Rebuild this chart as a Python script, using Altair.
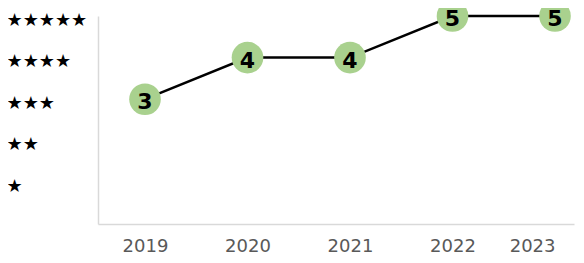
import altair as alt
import pandas as pd

years = [2019, 2020, 2021, 2022, 2023]
ratings = [3, 4, 4, 5, 5]
star_labels = ["★", "★★", "★★★", "★★★★", "★★★★★"]

df = pd.DataFrame({"year": years, "rating": ratings})

label_expr = "[''," + ",".join("'" + s + "'" for s in star_labels) + "][datum.value]"

W = 476
x_enc = alt.X("year:Q",
              scale=alt.Scale(domain=[2019 - 47 / 102.5, 2019 + (W - 47) / 102.5], nice=False, zero=False),
              axis=alt.Axis(title=None, values=years, format="d", labelAngle=0, labelFontSize=18,
                            labelColor="#595959", labelFont="DejaVu Sans", labelPadding=13,
                            ticks=False, grid=False, domainColor="#d9d9d9", domainWidth=1.5,
                            labelOverlap=False, labelFlush=25))
y_enc = alt.Y("rating:Q", scale=alt.Scale(domain=[0, 5], nice=False),
              axis=alt.Axis(title=None, values=[1, 2, 3, 4, 5], labelExpr=label_expr,
                            labelAlign="left", labelPadding=92, ticks=False, grid=False,
                            labelFontSize=18, labelColor="#000000", labelFont="DejaVu Sans",
                            labelOffset=4, domainColor="#d9d9d9", domainWidth=1.5))

base = alt.Chart(df).encode(x=x_enc, y=y_enc)

line = base.mark_line(color="#000000", strokeWidth=2.5)
points = base.mark_circle(size=1000, color="#a9d18e", opacity=1)
text = base.mark_text(fontSize=22, fontWeight="bold", font="DejaVu Sans", color="#000000",
                      baseline="middle", dy=3).encode(text="rating:Q")

chart = (line + points + text).properties(
    width=W, height=208,
    autosize=alt.AutoSizeParams(type="none"),
    padding={"left": 90, "top": 8, "right": 2, "bottom": 31},
).configure_view(stroke=None).configure_axis(grid=False)

chart.save("out.html", embed_options={"renderer": "svg", "actions": False})
